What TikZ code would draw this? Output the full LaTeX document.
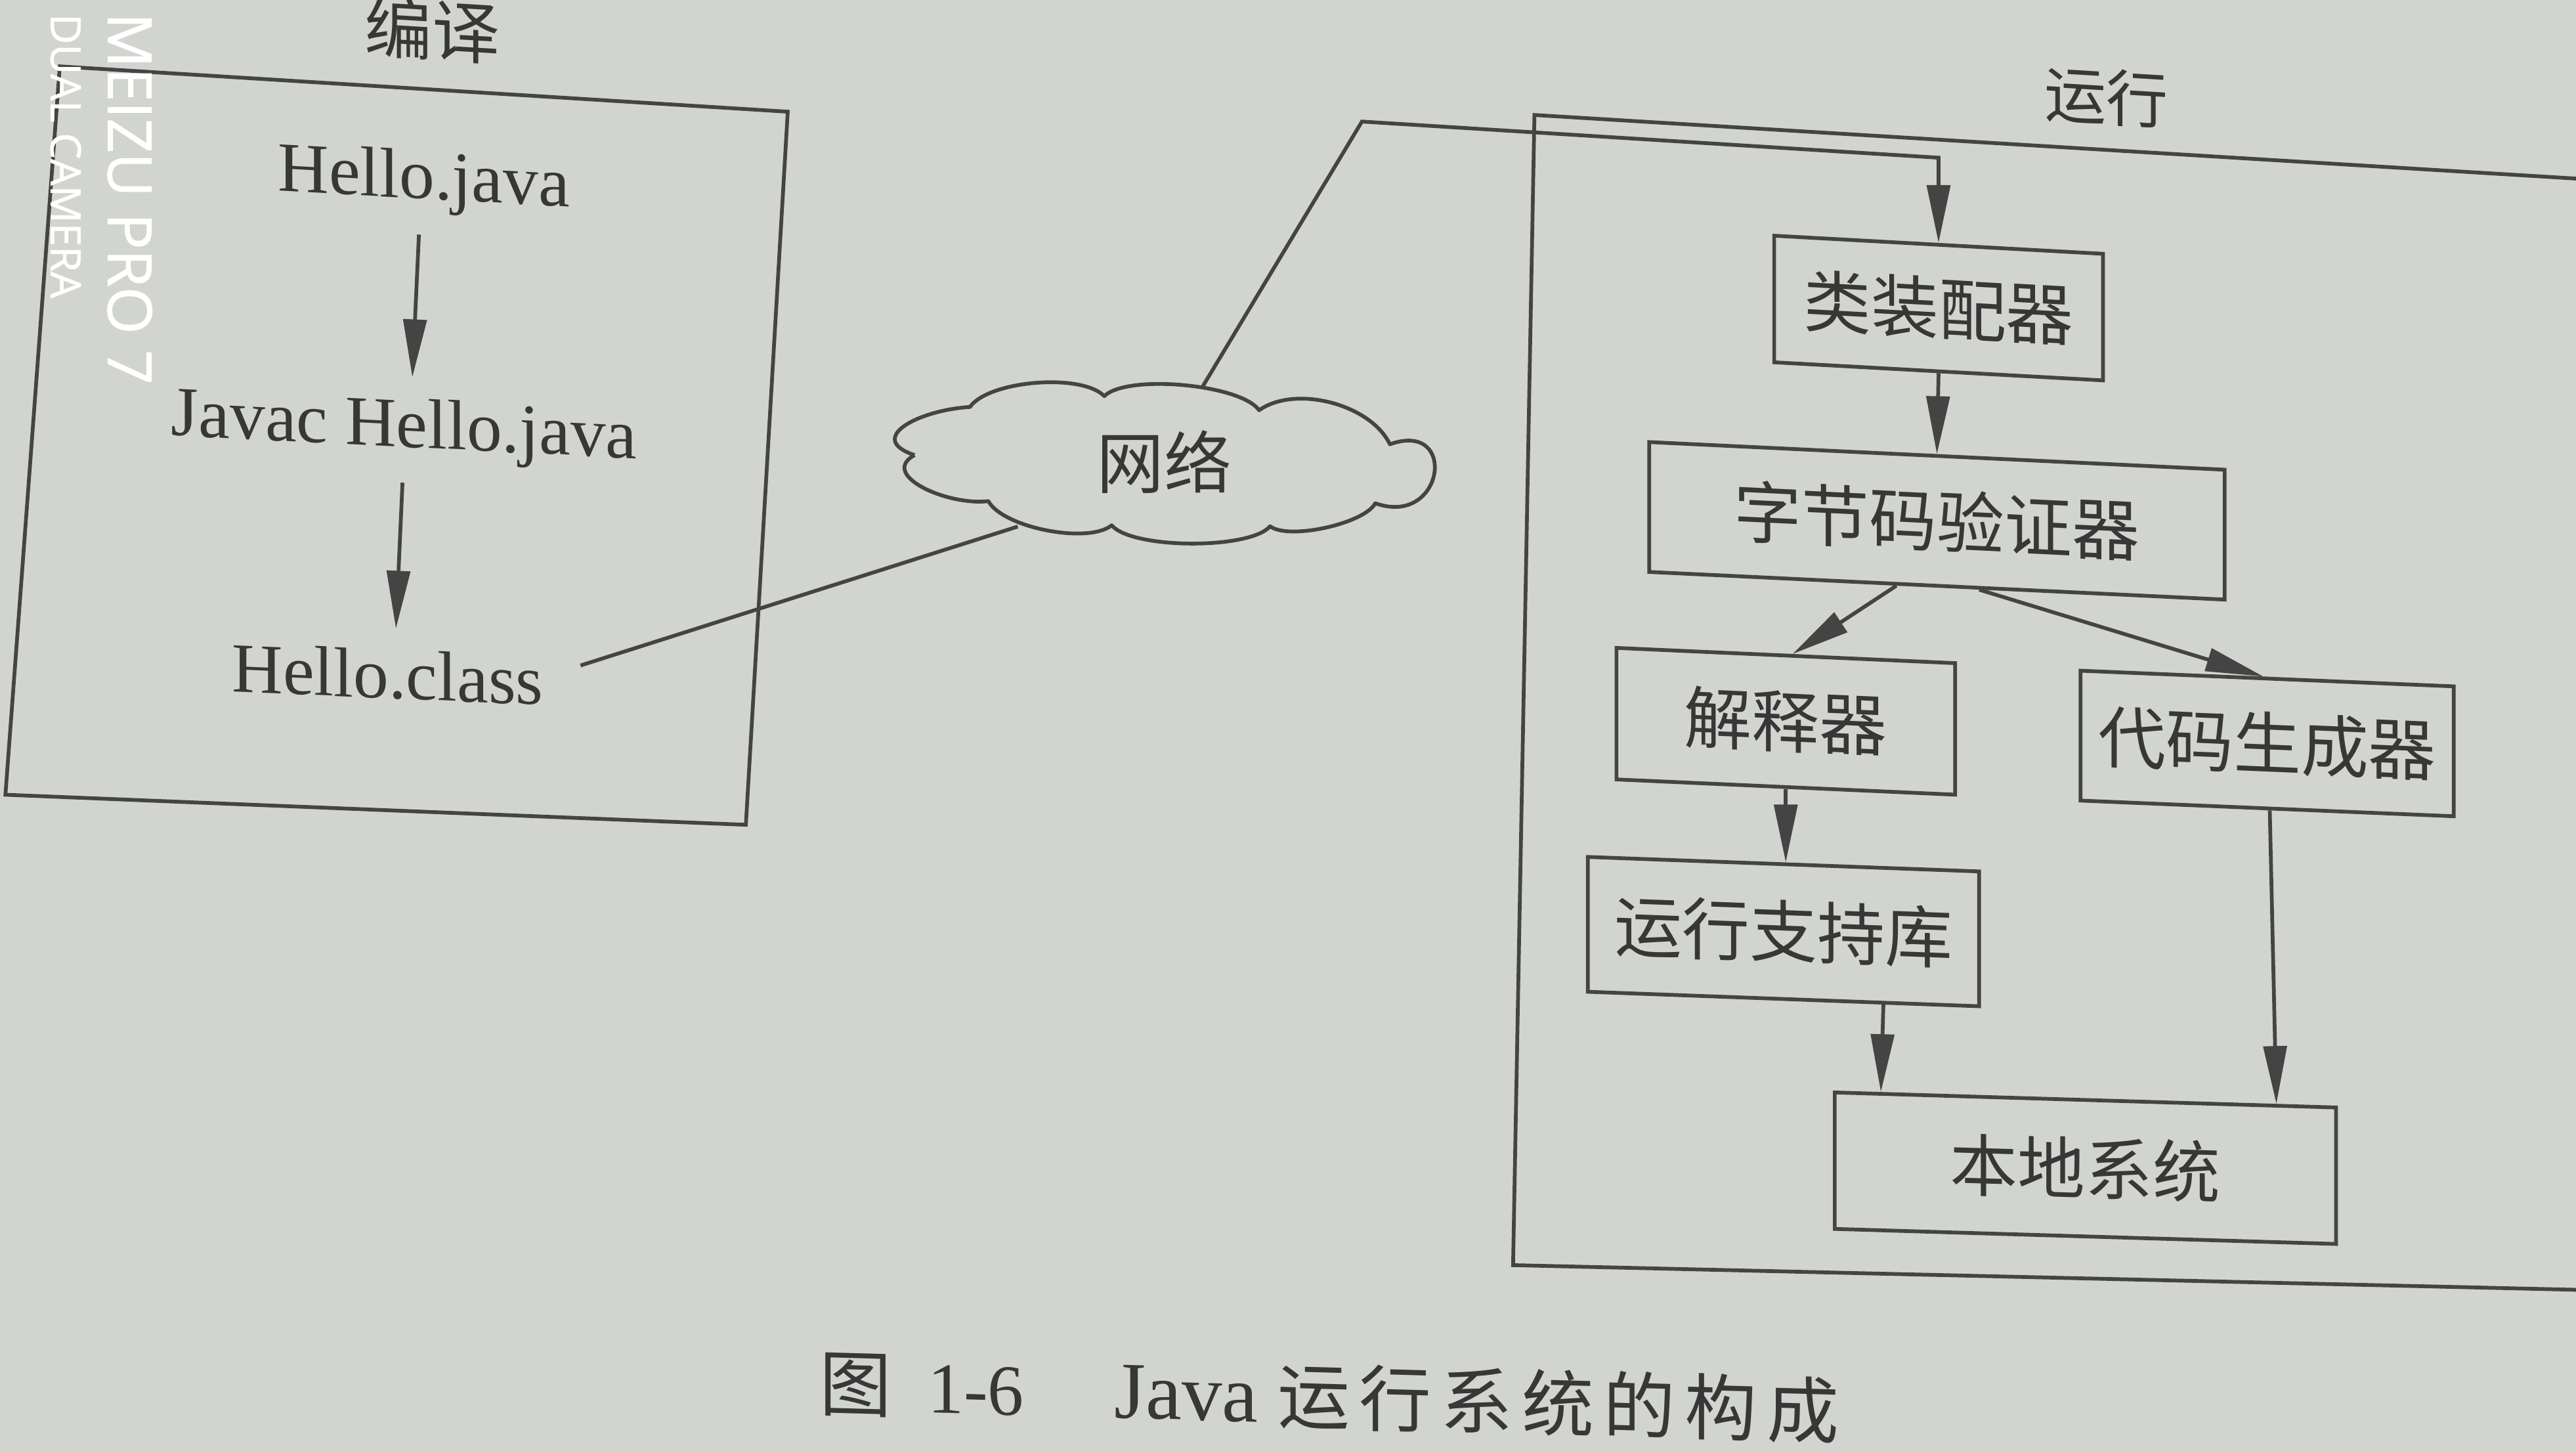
\documentclass[tikz,border=0pt]{standalone}
\usepackage{fontspec}
\setmainfont{Liberation Serif}
\newfontfamily\cjk{Noto Sans CJK SC}
\newfontfamily\wmfont[FakeBold=1.2]{Open Sans}
\usetikzlibrary{arrows.meta,calc}
\definecolor{paper}{RGB}{210,213,207}
\definecolor{ink}{RGB}{68,68,68}
\definecolor{txt}{RGB}{55,55,55}
\begin{document}
\begin{tikzpicture}[x=0.01cm,y=-0.01cm,
  line/.style={draw=ink,line width=0.65pt},
  arr/.style={line,-{Triangle[length=10pt,width=4pt]}},
  box/.style={draw=ink,line width=0.65pt,inner sep=0pt,text=txt,font=\cjk\fontsize{11.7}{12}\selectfont},
  lat/.style={text=txt,font=\fontsize{12.2}{14}\selectfont,inner sep=3.4pt,anchor=base},
  lbl/.style={text=txt,inner sep=0pt},
  wm/.style={text=white,inner sep=0pt,rotate=-90}]
\fill[paper] (0,0) rectangle (1568,883);
\useasboundingbox (0,0) rectangle (1568,883);

% frames
\coordinate (la) at (36.4,40.4);
\coordinate (lb) at (479.5,68);
\coordinate (lc) at (454,502);
\coordinate (ld) at (3.3,483.7);
\draw[line] (la) -- (lb) -- (lc) -- (ld) -- cycle;
\coordinate (ra) at (1568,108.7);
\coordinate (rb) at (934,70);
\coordinate (rc) at (921,770);
\coordinate (rd) at (1568,785);
\draw[line] (ra) -- (rb) -- (rc) -- (rd);

% frame labels
\node[lbl,font=\cjk\fontsize{11.7}{12}\selectfont,yslant=-0.06] (tby) at (263,18) {编译};
\node[lbl,font=\cjk\fontsize{10.7}{12}\selectfont,yslant=-0.06] (tyx) at (1282,59) {运行};

% left column
\node[lat,yslant=-0.055] (hj) at (258,121) {Hello.java};
\node[lat,yslant=-0.05] (jh) at (246,272) {Javac Hello.java};
\node[lat,yslant=-0.043] (hc) at (236,425) {Hello.class};
\draw[arr] ([xshift=-0.03cm]hj.south) -- ([xshift=0.05cm]jh.north);
\draw[arr] ([xshift=-0.01cm]jh.south) -- ([xshift=0.05cm]hc.north);

% cloud
\coordinate (cA) at (556.7,277);
\coordinate (cB) at (590.4,247.7);
\coordinate (cC) at (672.2,241.1);
\coordinate (cD) at (766.4,249.7);
\coordinate (cE) at (846,270.4);
\coordinate (cF) at (837.1,306.3);
\coordinate (cG) at (773.1,320.3);
\coordinate (cH) at (676.7,319.7);
\coordinate (cI) at (601.6,305);
\draw[line,line join=round]
  (cA) .. controls +(-30,-10) and +(-32,2) .. (cB)
       to[bend left=50,looseness=0.62] (cC)
       to[bend left=50,looseness=0.52] (cD)
       to[bend left=50,looseness=0.84] (cE)
       .. controls +(42,-15) and +(42,15) .. (cF)
       to[bend left=50,looseness=0.55] (cG)
       to[bend left=50,looseness=0.5] (cH)
       to[bend left=50,looseness=0.62] (cI)
       .. controls +(-25,3) and +(-22,12) .. (cA);
\node[lbl,font=\cjk\fontsize{11.7}{12}\selectfont] (net) at (708.5,281) {网络};
\coordinate (nt) at (731.6,236);
\coordinate (nb) at (619.5,320.5);

% right column
\node[box,minimum width=2cm,minimum height=0.77cm,yslant=-0.055] (lz) at (1180,187.5) {类装配器};
\node[box,minimum width=3.5cm,minimum height=0.79cm,yslant=-0.048] (zj) at (1179,317) {字节码验证器};
\node[box,minimum width=2.06cm,minimum height=0.8cm,yslant=-0.045] (js) at (1087,439) {解释器};
\node[box,minimum width=2.27cm,minimum height=0.79cm,yslant=-0.042] (dm) at (1380,452.5) {代码生成器};
\node[box,minimum width=2.38cm,minimum height=0.82cm,yslant=-0.037] (yx) at (1085.6,567) {运行支持库};
\node[box,minimum width=3.05cm,minimum height=0.83cm,yslant=-0.03] (bd) at (1269.4,711) {本地系统};

% connectors
\draw[line] ([xshift=0.1cm,yshift=0.1cm]hc.east) -- (nb);
\coordinate (k1) at (829,74);
\coordinate (k2) at (1180,96);
\draw[arr] (nt) -- (k1) -- (k2) -- (lz.north);
\draw[arr] (lz.south) -- (zj.north);
\draw[arr] ($(zj.south west)!0.43!(zj.south east)$) -- ($(js.north west)!0.52!(js.north east)$);
\draw[arr] ($(zj.south west)!0.573!(zj.south east)$) -- ($(dm.north west)!0.49!(dm.north east)$);
\draw[arr] (js.south) -- (js.south |- yx.north);
\draw[arr] ($(yx.south west)!0.753!(yx.south east)$) -- ($(bd.north west)!0.095!(bd.north east)$);
\draw[arr] ($(dm.south west)!0.507!(dm.south east)$) -- ($(bd.north west)!0.878!(bd.north east)$);

% caption
\node[lbl,yslant=-0.028] (cap) at (809,850) {{\cjk\fontsize{12.5}{14}\selectfont 图}\hspace{0.22cm}{\fontsize{12.5}{14}\selectfont 1-6}\hspace{0.55cm}{\fontsize{14}{14}\selectfont Java}\hspace{0.12cm}{\cjk\fontsize{12.5}{14}\selectfont 运\hspace{1.6pt}行\hspace{1.6pt}系\hspace{1.6pt}统\hspace{1.6pt}的\hspace{1.6pt}构\hspace{1.6pt}成}};

% camera watermark
\node[wm,font=\wmfont\fontsize{10.5}{12}\selectfont] (w1) at (79,121) {MEIZU PRO 7};
\node[wm,font=\wmfont\fontsize{7.2}{9}\selectfont] (w2) at (40,95) {DUAL CAMERA};
\end{tikzpicture}
\end{document}
